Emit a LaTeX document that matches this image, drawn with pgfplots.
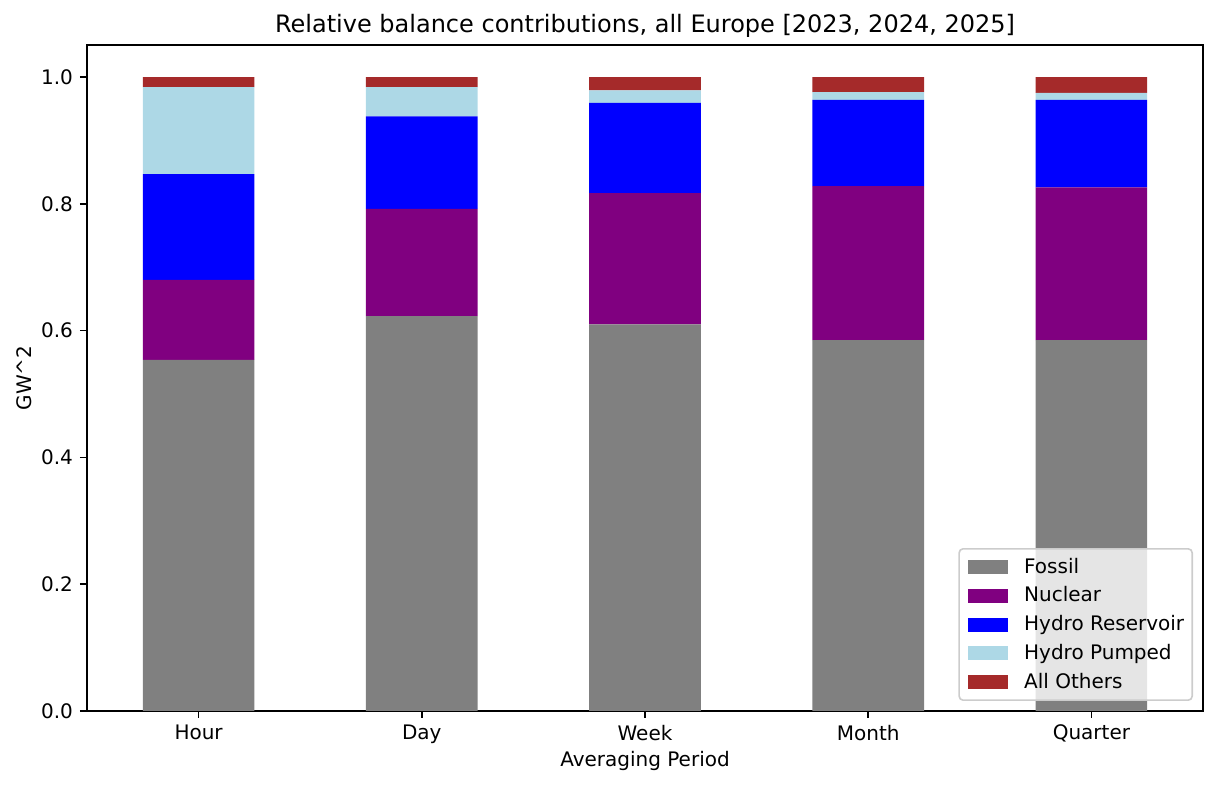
\documentclass[border=0pt]{standalone}
\usepackage{fontspec}
\setmainfont{DejaVu Sans}
\usepackage{pgfplots}
\usepackage{pgfplotstable}
\pgfplotsset{compat=1.18}
\definecolor{cfossil}{HTML}{808080}
\definecolor{cnuclear}{HTML}{800080}
\definecolor{chres}{HTML}{0000FF}
\definecolor{chpump}{HTML}{ADD8E6}
\definecolor{cother}{HTML}{A52A2A}
\pgfplotstableread{
x fossil nuclear hres hpump other
0 0.554 0.126 0.167 0.137 0.016
1 0.623 0.169 0.146 0.046 0.016
2 0.610 0.207 0.142 0.020 0.021
3 0.585 0.243 0.136 0.012 0.024
4 0.585 0.241 0.138 0.011 0.025
}\datatable
\begin{document}
\begin{tikzpicture}
\begin{axis}[
  scale only axis,
  width=558pt, height=333pt,
  ybar stacked, bar width=0.5,
  xmin=-0.5, xmax=4.5, ymin=0, ymax=1.0505,
  xtick={0,1,2,3,4},
  xticklabels={Hour,Day,Week,Month,Quarter},
  ytick={0,0.2,0.4,0.6,0.8,1.0},
  yticklabel style={/pgf/number format/fixed, /pgf/number format/fixed zerofill, /pgf/number format/precision=1},
  /pgf/number format/assume math mode=true,
  tick align=outside, tick pos=left,
  major tick length=3.5pt,
  every tick/.style={black, line width=0.8pt},
  axis line style={line width=0.8pt},
  ticklabel style={font=\fontsize{10}{12}\selectfont},
  title={Relative balance contributions, all Europe [2023, 2024, 2025]},
  title style={font=\fontsize{12}{14}\selectfont, anchor=base, at={(0.5,1)}},
  xlabel={Averaging Period},
  ylabel={GW\textasciicircum 2},
  label style={font=\fontsize{10}{12}\selectfont},
  xlabel style={yshift=3pt},
  ylabel style={yshift=-2pt},
  legend style={at={(1,0)}, anchor=south east, xshift=-5pt, yshift=5pt,
    draw=black!20, line width=0.8pt, rounded corners=2pt, fill=white, fill opacity=0.8, text opacity=1,
    font=\fontsize{10}{12}\selectfont, row sep=1.3pt, inner xsep=2pt, inner ysep=2.5pt,
    nodes={inner xsep=2pt},
    /tikz/every odd column/.append style={column sep=6pt}},
  legend cell align=left,
  legend image code/.code={\path (-2.5pt,0pt); \fill[#1, fill opacity=1, sharp corners] (0pt,-3.5pt) rectangle (20pt,3.5pt);},
]
\addplot[fill=cfossil, draw=none] table[x=x, y=fossil] {\datatable};
\addplot[fill=cnuclear, draw=none] table[x=x, y=nuclear] {\datatable};
\addplot[fill=chres, draw=none] table[x=x, y=hres] {\datatable};
\addplot[fill=chpump, draw=none] table[x=x, y=hpump] {\datatable};
\addplot[fill=cother, draw=none] table[x=x, y=other] {\datatable};
\legend{Fossil, Nuclear, Hydro Reservoir, Hydro Pumped, All Others}
\end{axis}
\pgfresetboundingbox
\path ([shift={(-43.5pt,-37pt)}]current axis.south west) rectangle ([shift={(7pt,22.5pt)}]current axis.north east);
\end{tikzpicture}
\end{document}
